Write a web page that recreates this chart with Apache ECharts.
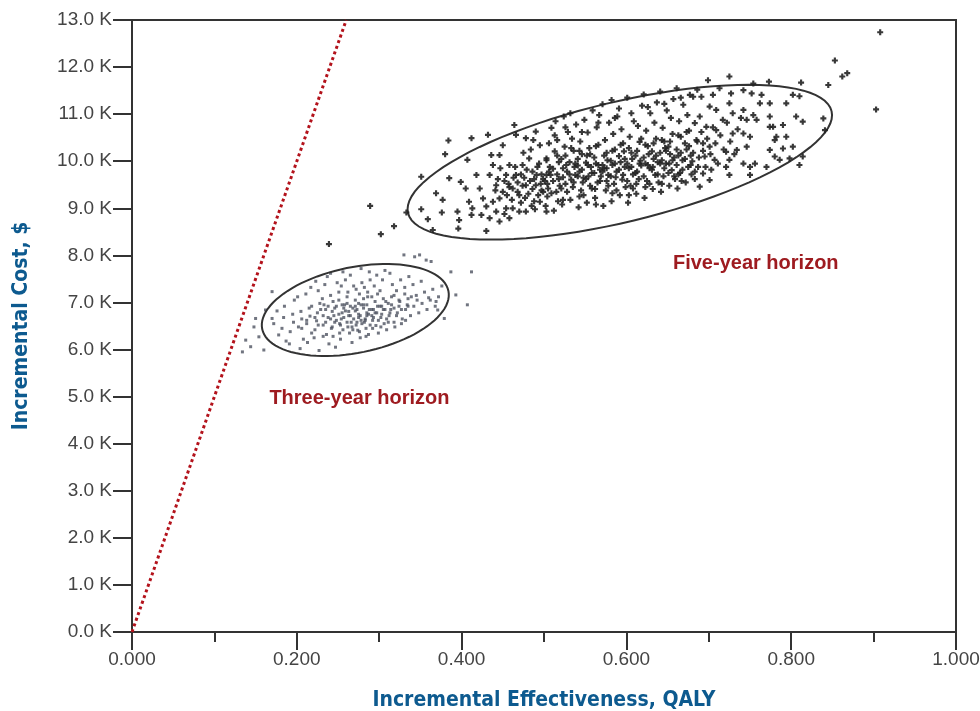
<!DOCTYPE html>
<html>
<head>
<meta charset="utf-8">
<script src="https://cdn.jsdelivr.net/npm/echarts@6/dist/echarts.min.js"></script>
<style>
  html, body { margin: 0; padding: 0; background: #fff; }
  #chart { width: 980px; height: 711px; }
</style>
</head>
<body>
<div id="chart"></div>
<script>
// axis ticks
var xTicks = [0, 0.2, 0.4, 0.6, 0.8, 1.0];
var yTicksK = [0, 1, 2, 3, 4, 5, 6, 7, 8, 9, 10, 11, 12, 13];

// willingness-to-pay line ($50,000 / QALY), [QALY, $K]
var wtpLine = [[0, 0], [0.26, 13]];

// five-year horizon simulations, [QALY, $K]
var fiveYearPoints = [
  // left end
  [0.384,10.44],[0.412,10.49],[0.380,10.15],[0.432,10.56],[0.351,9.67],[0.333,8.91],[0.359,8.77],[0.351,8.98],
  [0.376,8.91],[0.369,9.32],[0.377,9.18],[0.385,9.64],[0.399,9.56],[0.395,8.93],[0.397,8.75],[0.396,8.57],
  [0.430,8.52],[0.365,8.54],[0.407,10.03],[0.405,9.42],[0.409,9.14],[0.413,9.00],[0.418,9.71],[0.422,9.42],
  [0.412,8.86],[0.426,9.21],[0.436,10.13],[0.438,9.92],[0.434,9.71],[0.446,10.13],[0.450,10.34],[0.466,10.56],
  [0.464,10.77],[0.458,9.92],[0.454,9.71],[0.442,9.49],[0.446,9.21],[0.438,9.14],[0.442,8.93],[0.434,8.79],
  [0.446,8.72],[0.458,8.79],[0.462,9.00],[0.454,9.00],[0.470,8.93],[0.478,8.93],[0.470,9.28],[0.478,9.49],
  [0.466,9.71],[0.474,9.92],[0.482,10.06],[0.486,9.78],[0.490,9.49],[0.495,9.14],[0.503,8.93],[0.499,9.35],
  [0.495,10.34],[0.490,10.63],[0.478,10.49],[0.503,10.06],[0.503,9.71],[0.450,9.35],[0.462,9.42],[0.430,9.04],
  [0.424,8.86],[0.468,9.55],[0.472,9.12],[0.476,9.65],[0.481,9.31],[0.485,9.05],[0.488,9.62],[0.492,9.88],
  [0.496,9.52],[0.484,10.25],[0.475,10.18],[0.489,8.98],[0.497,9.72],[0.461,9.18],[0.457,9.52],[0.452,8.88],
  [0.487,10.45],[0.493,9.28],
  // middle
  [0.502,9.05],[0.505,9.42],[0.508,9.71],[0.503,10.02],[0.506,10.38],[0.509,10.71],[0.501,9.58],[0.507,9.88],[0.504,9.25],
  [0.512,8.95],[0.515,9.35],[0.518,9.62],[0.511,9.84],[0.516,10.12],[0.513,10.55],[0.519,9.48],[0.514,10.85],[0.517,9.15],
  [0.522,9.08],[0.526,9.52],[0.528,9.78],[0.521,10.05],[0.525,10.31],[0.529,10.62],[0.523,9.66],[0.527,9.92],[0.524,10.95],
  [0.532,9.18],[0.535,9.45],[0.538,9.71],[0.531,9.98],[0.536,10.22],[0.534,10.48],[0.539,10.78],[0.533,9.61],[0.537,9.88],[0.532,11.02],
  [0.542,9.02],[0.545,9.38],[0.548,9.65],[0.541,9.91],[0.546,10.15],[0.544,10.42],[0.549,10.88],[0.543,9.78],[0.547,9.55],[0.541,10.05],
  [0.552,9.12],[0.556,9.48],[0.558,9.75],[0.551,9.97],[0.555,10.28],[0.553,10.61],[0.559,11.08],[0.554,9.68],[0.557,9.88],[0.552,10.12],
  [0.562,9.22],[0.565,9.55],[0.568,9.82],[0.561,10.08],[0.566,10.35],[0.564,10.72],[0.569,9.68],[0.563,9.95],[0.567,10.98],[0.562,9.41],
  [0.572,9.05],[0.575,9.38],[0.578,9.71],[0.571,9.92],[0.576,10.18],[0.574,10.45],[0.579,10.82],[0.573,9.85],[0.577,10.02],[0.571,11.21],[0.576,9.58],
  [0.582,9.15],[0.585,9.52],[0.588,9.78],[0.581,10.01],[0.586,10.25],[0.584,10.58],[0.589,10.95],[0.583,9.92],[0.587,9.66],[0.582,11.30],
  [0.592,9.28],[0.595,9.61],[0.598,9.88],[0.591,10.11],[0.596,10.38],[0.594,10.68],[0.599,9.45],[0.593,9.98],[0.597,10.21],[0.591,11.12],
  [0.602,9.12],[0.605,9.48],[0.608,9.72],[0.601,9.95],[0.606,10.18],[0.604,10.52],[0.609,10.85],[0.603,9.85],[0.607,10.05],[0.601,11.35],
  [0.612,9.31],[0.615,9.62],[0.618,9.91],[0.611,10.12],[0.616,10.41],[0.614,10.75],[0.619,11.18],[0.613,9.78],[0.617,10.01],[0.612,9.52],
  [0.622,9.22],[0.625,9.58],[0.628,9.85],[0.621,10.08],[0.626,10.32],[0.624,10.65],[0.629,11.02],[0.623,9.95],[0.627,10.15],[0.621,11.42],
  [0.632,9.41],[0.635,9.71],[0.638,9.98],[0.631,10.21],[0.636,10.48],[0.634,10.82],[0.639,9.55],[0.633,10.05],[0.637,11.25],[0.632,9.88],
  [0.642,9.35],[0.645,9.68],[0.648,9.95],[0.641,10.18],[0.646,10.42],[0.644,10.71],[0.649,11.08],[0.643,10.02],[0.647,10.28],[0.641,11.48],
  [0.652,9.48],[0.655,9.81],[0.658,10.08],[0.651,10.31],[0.656,10.58],[0.654,10.92],[0.659,9.62],[0.653,10.15],[0.657,11.32],[0.652,9.95],
  [0.662,9.42],[0.665,9.75],[0.668,10.02],[0.661,10.25],[0.666,10.52],[0.664,10.85],[0.669,11.20],[0.663,10.12],[0.667,9.58],[0.661,11.55],
  [0.672,9.55],[0.675,9.88],[0.678,10.12],[0.671,10.38],[0.676,10.65],[0.674,10.98],[0.679,9.72],[0.673,10.25],[0.677,11.41],
  // dense core
  [0.441,9.38],[0.444,9.62],[0.447,9.85],[0.452,9.58],[0.455,9.28],[0.458,9.45],[0.463,9.65],[0.465,9.88],[0.468,9.35],[0.472,9.72],
  [0.474,9.48],[0.477,9.22],[0.479,9.82],[0.483,9.58],[0.486,9.41],[0.488,9.15],[0.491,9.71],[0.494,9.95],[0.497,9.38],[0.499,9.62],
  [0.504,9.52],[0.506,9.78],[0.509,9.32],[0.511,9.58],[0.513,10.21],[0.516,9.72],[0.518,9.98],[0.521,9.42],[0.523,9.85],[0.526,10.12],
  [0.528,9.35],[0.531,9.72],[0.533,10.28],[0.536,9.55],[0.538,9.95],[0.541,9.68],[0.543,10.22],[0.546,9.82],[0.548,9.28],[0.551,9.62],
  [0.553,9.92],[0.556,10.15],[0.558,9.42],[0.561,9.75],[0.563,10.32],[0.566,9.92],[0.568,9.58],[0.571,9.78],[0.573,10.12],[0.576,9.85],
  [0.578,9.48],[0.581,9.68],[0.583,10.22],[0.586,9.95],[0.588,9.38],[0.591,9.82],[0.593,10.35],[0.596,9.71],[0.598,10.05],[0.601,9.58],
  [0.603,10.28],[0.606,9.88],[0.608,9.42],[0.611,9.75],[0.613,10.22],[0.616,9.95],[0.618,10.48],[0.621,9.68],[0.623,10.35],[0.626,9.92],
  [0.628,9.52],[0.631,9.82],[0.633,10.38],[0.636,10.12],[0.638,9.72],[0.641,9.95],[0.643,10.45],[0.646,9.85],[0.648,10.22],[0.651,9.75],
  [0.653,10.42],[0.656,10.02],[0.658,9.68],[0.661,9.92],[0.663,10.55],[0.666,10.18],[0.668,9.82],[0.671,10.05],[0.673,10.62],[0.676,10.32],
  [0.678,9.92],[0.681,10.18],[0.683,9.78],[0.686,10.42],[0.688,10.08],[0.691,10.62],[0.693,10.22],[0.696,9.88],[0.698,10.48],[0.702,10.15],
  [0.705,10.72],[0.708,10.38],[0.711,9.95],[0.714,10.55],[0.718,10.25],[0.722,10.82],[0.726,10.42],[0.731,10.15],[0.735,10.68],[0.739,10.92],
  [0.516,10.45],[0.526,10.72],[0.546,10.62],[0.566,10.82],[0.586,10.92],[0.606,11.02],[0.626,11.15],[0.646,11.22],[0.666,11.35],[0.686,11.52],
  [0.523,9.18],[0.543,9.25],[0.563,9.08],[0.583,9.32],[0.603,9.28],[0.623,9.45],[0.643,9.52],[0.663,9.72],[0.683,9.62],[0.703,9.82],
  // right end
  [0.725,11.80],[0.699,11.72],[0.754,11.65],[0.773,11.69],[0.812,11.67],[0.845,11.62],[0.839,10.91],[0.841,10.66],
  [0.814,10.84],[0.810,9.92],[0.814,10.10],[0.802,10.31],[0.794,10.52],[0.806,10.95],[0.802,11.41],[0.810,11.38],
  [0.794,11.23],[0.790,10.77],[0.778,10.73],[0.782,10.52],[0.780,10.45],[0.774,10.73],[0.774,10.95],[0.790,10.27],
  [0.798,10.06],[0.780,10.10],[0.774,10.24],[0.762,11.23],[0.774,11.23],[0.764,11.41],[0.752,11.44],[0.742,11.51],
  [0.727,11.44],[0.713,11.55],[0.705,11.41],[0.691,11.37],[0.681,11.37],[0.725,11.23],[0.742,11.09],[0.754,10.98],
  [0.758,10.88],[0.746,10.88],[0.729,11.02],[0.717,10.88],[0.709,11.09],[0.701,11.16],[0.689,10.95],[0.683,10.81],
  [0.697,10.73],[0.709,10.66],[0.729,10.59],[0.742,10.59],[0.750,10.52],[0.746,10.31],[0.734,10.24],[0.721,10.20],
  [0.701,10.31],[0.693,10.38],[0.685,10.45],[0.695,10.10],[0.707,10.03],[0.725,10.03],[0.721,9.88],[0.742,9.95],
  [0.750,9.88],[0.756,9.95],[0.770,9.88],[0.725,9.71],[0.701,9.60],[0.689,9.46],[0.687,9.88],[0.680,10.00],
  [0.693,9.74],[0.750,9.71],[0.786,10.03],
  // stray
  [0.289,9.05],[0.239,8.24],[0.302,8.45],[0.318,8.62],[0.853,12.14],[0.862,11.80],[0.868,11.87],[0.908,12.74],[0.903,11.10]
];

// three-year horizon simulations, [QALY, $K]
var threeYearPoints = [
  [0.170,7.23],[0.162,6.84],[0.150,6.66],[0.148,6.48],[0.138,6.20],[0.144,6.06],[0.134,5.95],[0.160,5.99],[0.154,6.27],[0.170,6.66],
  [0.172,6.55],[0.176,6.82],[0.178,6.31],
  [0.182,6.45],[0.185,6.92],[0.187,6.18],[0.184,6.68],
  [0.192,6.38],[0.195,6.75],[0.197,7.05],[0.191,6.12],[0.196,6.58],
  [0.202,6.48],[0.205,6.81],[0.208,6.22],[0.201,7.12],[0.206,6.65],[0.204,6.02],
  [0.212,6.55],[0.215,6.88],[0.218,6.35],[0.211,7.18],[0.216,6.71],[0.213,6.15],[0.217,7.32],
  [0.222,6.42],[0.225,6.78],[0.228,6.98],[0.221,6.25],[0.226,7.25],[0.224,6.61],[0.227,5.98],[0.223,7.45],
  [0.232,6.52],[0.235,6.85],[0.238,6.68],[0.231,7.08],[0.236,6.32],[0.234,7.38],[0.239,6.12],[0.233,6.95],[0.237,7.55],
  [0.242,6.45],[0.245,6.72],[0.248,6.92],[0.241,7.15],[0.246,6.58],[0.244,6.28],[0.249,7.42],[0.243,6.81],[0.247,6.05],[0.241,7.62],
  [0.252,6.55],[0.255,6.78],[0.258,6.95],[0.251,7.22],[0.256,6.42],[0.254,6.65],[0.259,7.48],[0.253,6.22],[0.257,6.88],[0.251,7.05],[0.256,7.65],
  [0.262,6.48],[0.265,6.72],[0.268,6.88],[0.261,7.12],[0.266,6.58],[0.264,6.35],[0.269,7.35],[0.263,6.81],[0.267,6.15],[0.261,6.98],[0.265,7.58],
  [0.272,6.52],[0.275,6.75],[0.278,6.62],[0.271,6.92],[0.276,7.18],[0.274,6.41],[0.279,7.42],[0.273,6.85],[0.277,6.25],[0.271,7.05],[0.275,6.68],[0.278,7.72],
  [0.282,6.58],[0.285,6.72],[0.288,6.85],[0.281,6.95],[0.286,7.22],[0.284,6.45],[0.289,7.48],[0.283,6.65],[0.287,6.32],[0.281,7.08],[0.285,6.78],[0.288,7.65],
  [0.292,6.62],[0.295,6.78],[0.298,6.92],[0.291,7.12],[0.296,6.51],[0.294,7.35],[0.299,6.35],[0.293,6.85],[0.297,7.58],[0.291,6.72],
  [0.302,6.68],[0.305,6.85],[0.308,7.02],[0.301,7.25],[0.306,6.55],[0.304,7.48],[0.309,6.42],[0.303,6.92],[0.307,7.68],
  [0.312,6.72],[0.315,6.95],[0.318,7.15],[0.311,6.58],[0.316,7.38],[0.314,6.85],[0.319,6.48],[0.313,7.62],
  [0.322,6.78],[0.325,7.02],[0.328,6.65],[0.321,7.25],[0.326,7.48],[0.324,6.92],[0.327,6.55],
  [0.332,6.85],[0.335,7.08],[0.338,6.72],[0.331,7.32],[0.336,7.55],[0.334,6.95],
  [0.342,6.92],[0.345,7.15],[0.348,6.78],[0.341,7.38],[0.346,7.05],
  [0.352,6.98],[0.355,7.22],[0.358,6.85],[0.351,7.45],
  [0.362,7.05],[0.365,7.28],[0.368,6.92],
  [0.372,7.12],[0.376,7.35],
  // dense core
  [0.222,6.68],[0.226,6.52],[0.229,6.85],[0.232,6.72],[0.235,6.58],[0.238,6.92],[0.241,6.65],[0.243,6.48],[0.246,6.88],[0.248,6.62],
  [0.251,6.75],[0.253,6.52],[0.255,6.95],[0.257,6.68],[0.259,6.82],[0.261,6.58],[0.263,6.72],[0.265,6.92],[0.267,6.48],[0.269,6.65],
  [0.271,6.82],[0.273,6.58],[0.275,6.98],[0.277,6.72],[0.279,6.55],[0.281,6.88],[0.283,6.62],[0.285,6.95],[0.287,6.75],[0.289,6.52],
  [0.291,6.85],[0.293,6.68],[0.295,7.02],[0.297,6.78],[0.299,6.62],[0.301,6.92],[0.303,6.75],[0.305,7.08],[0.307,6.85],[0.309,6.65],
  [0.311,6.98],[0.313,6.78],[0.315,7.12],[0.318,6.88],[0.321,6.72],[0.324,7.05],[0.327,6.85],[0.331,7.18],[0.335,6.92],[0.339,7.12],
  [0.268,6.42],[0.276,6.38],[0.284,6.28],[0.292,6.45],[0.272,7.28],[0.282,7.32],[0.262,7.22],[0.298,7.18],[0.254,7.35],[0.244,7.02],
  [0.218,6.92],[0.212,6.62],[0.206,6.45],[0.232,6.28],[0.252,6.35],[0.278,6.95],[0.286,7.12],[0.302,6.48],[0.318,6.58],[0.332,6.62],
  // right end and stray
  [0.387,7.65],[0.412,7.65],[0.393,7.16],[0.407,6.95],[0.379,6.66],[0.330,8.01],[0.343,7.97],[0.349,8.01],
  [0.363,7.87],[0.357,7.90],[0.371,6.84],[0.369,7.02],[0.360,7.10]
];

// confidence ellipses: centre, half major axis, half minor axis (QALY, $K)
var ellipseCentres = [[0.592, 9.98], [0.271, 6.84]];
var ellipseMajor = [[0.257, 1.083], [0.113, 0.404]];
var ellipseMinor = [[-0.0171, 1.238], [-0.0104, 0.890]];

// horizon labels
var horizonLabels = [[0.757, 7.82, 'Five-year horizon'], [0.276, 4.97, 'Three-year horizon']];

var chart = echarts.init(document.getElementById('chart'));

var tickFont = { fontFamily: 'Liberation Sans', fontSize: 19, color: '#444' };
var titleFont = { fontFamily: 'Liberation Sans Narrow, DejaVu Sans Condensed, Liberation Sans', fontWeight: 'bold', fontSize: 21, color: '#0d5a8f' };

var option = {
  animation: false,
  backgroundColor: '#fff',
  grid: {
    left: 132, right: 24, top: 20, bottom: 79,
    outerBoundsMode: 'none',
    show: true, borderColor: '#333', borderWidth: 2, backgroundColor: 'transparent'
  },
  xAxis: {
    type: 'value',
    min: xTicks[0], max: xTicks[xTicks.length - 1], interval: 0.2,
    name: 'Incremental Effectiveness, QALY',
    nameLocation: 'middle', nameGap: 58,
    nameTextStyle: titleFont,
    axisLine: { lineStyle: { color: '#333', width: 2 } },
    axisTick: { show: true, length: 18, lineStyle: { color: '#333', width: 2 } },
    minorTick: { show: true, splitNumber: 2, length: 10, lineStyle: { color: '#333', width: 2 } },
    splitLine: { show: false },
    axisLabel: Object.assign({ margin: 18, formatter: function (v) { return v.toFixed(3); } }, tickFont)
  },
  yAxis: {
    type: 'value',
    min: yTicksK[0], max: yTicksK[yTicksK.length - 1], interval: 1,
    name: 'Incremental Cost, $',
    nameLocation: 'middle', nameGap: 100,
    nameTextStyle: titleFont,
    axisLine: { lineStyle: { color: '#333', width: 2 } },
    axisTick: { show: true, length: 19, lineStyle: { color: '#333', width: 2 } },
    splitLine: { show: false },
    axisLabel: Object.assign({ margin: 20, formatter: function (v) { return v.toFixed(1) + ' K'; } }, tickFont)
  },
  series: [
    {
      type: 'line',
      data: wtpLine,
      symbol: 'none',
      lineStyle: { color: '#b3121b', width: 3, type: [3, 3] },
      z: 3
    },
    {
      type: 'scatter',
      data: threeYearPoints,
      symbol: 'rect',
      symbolSize: 3,
      itemStyle: { color: '#4d5360', opacity: 0.8 },
      z: 2
    },
    {
      type: 'custom',
      data: ellipseCentres,
      renderItem: function (params, api) {
        var i = params.dataIndex;
        var c = [api.value(0), api.value(1)];
        var u = ellipseMajor[i], v = ellipseMinor[i];
        var pts = [];
        for (var k = 0; k <= 96; k++) {
          var t = k / 96 * Math.PI * 2;
          pts.push(api.coord([
            c[0] + u[0] * Math.cos(t) + v[0] * Math.sin(t),
            c[1] + u[1] * Math.cos(t) + v[1] * Math.sin(t)
          ]));
        }
        return {
          type: 'polyline',
          shape: { points: pts },
          style: { stroke: '#333', lineWidth: 2, fill: null }
        };
      },
      z: 4
    },
    {
      type: 'scatter',
      data: fiveYearPoints,
      symbol: 'path://M1.6,0H3.4V1.6H5V3.4H3.4V5H1.6V3.4H0V1.6H1.6Z',
      symbolSize: 6,
      itemStyle: { color: '#222', opacity: 0.9 },
      z: 5
    },
    {
      type: 'scatter',
      data: horizonLabels,
      symbolSize: 0,
      itemStyle: { opacity: 1 },
      label: {
        show: true, position: 'inside',
        formatter: function (p) { return p.data[2]; },
        fontFamily: 'Liberation Sans', fontWeight: 'bold', fontSize: 20, color: '#9e1b20'
      },
      z: 6
    }
  ]
};

chart.setOption(option);
window.addEventListener('resize', function () { chart.resize(); });
</script>
</body>
</html>
